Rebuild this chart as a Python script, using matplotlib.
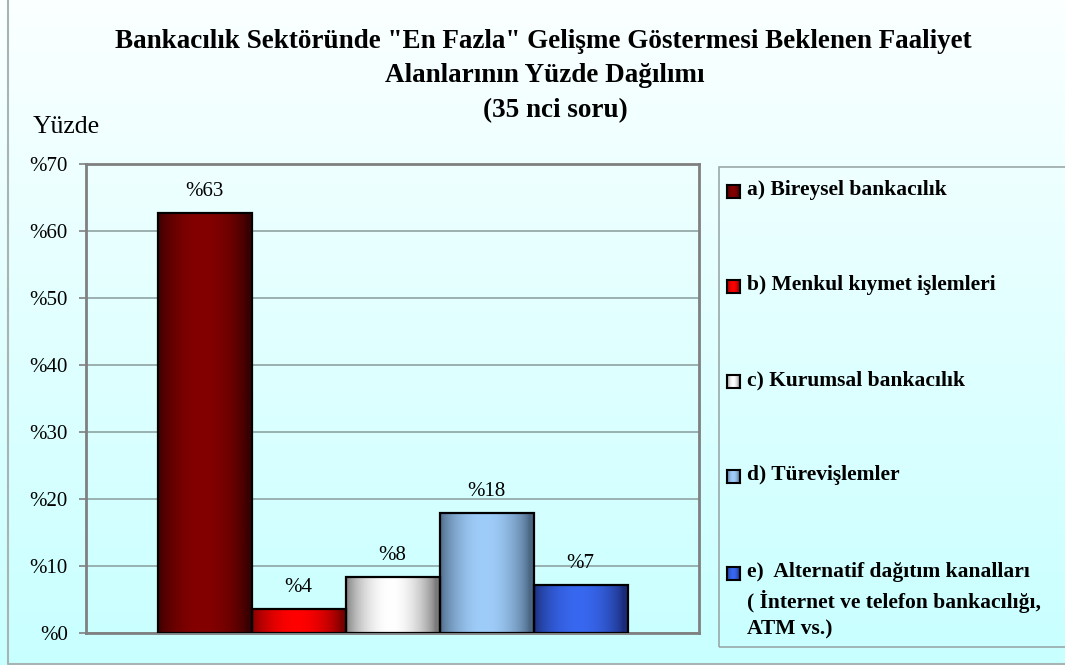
import numpy as np
import matplotlib.pyplot as plt
from matplotlib.colors import to_rgb
from matplotlib.patches import Rectangle

# Dağılım (yüzde)
kategoriler = [
    "a) Bireysel bankacılık",
    "b) Menkul kıymet işlemleri",
    "c) Kurumsal bankacılık",
    "d) Türevişlemler",
    "e)  Alternatif dağıtım kanalları\n( İnternet ve telefon bankacılığı,\nATM vs.)",
]
degerler = [62.7, 3.6, 8.4, 17.9, 7.2]
y_ticks = [0, 10, 20, 30, 40, 50, 60, 70]

# kenar / orta renkleri (silindir gölgesi için)
kenar_renk = ["#380000", "#7a0000", "#7a7a7a", "#4a6682", "#1a2c78"]
orta_renk = ["#840000", "#ff0000", "#ffffff", "#9fcdfa", "#3868f0"]

plt.rcParams["font.family"] = ["Liberation Serif", "DejaVu Serif"]

W, H = 1065, 665
fig = plt.figure(figsize=(W / 100, H / 100), dpi=100)


def px(x, y):
    return x / W, 1 - y / H


def yatay_gradyan(c_kenar, c_orta, n=200):
    t = np.linspace(0, 1, n)
    f = np.sin(np.pi * np.clip(t * 1.05, 0, 1)) ** 0.7
    a = np.array(to_rgb(c_kenar))
    b = np.array(to_rgb(c_orta))
    return (a[None, :] * (1 - f[:, None]) + b[None, :] * f[:, None])[None, :, :]


# arka plan: üstte beyaza yakın, altta açık camgöbeği
bg = fig.add_axes([0, 0, 1, 1], zorder=-5)
top = np.array(to_rgb("#fbffff"))
bot = np.array(to_rgb("#c8ffff"))
s = np.linspace(0, 1, 256)[:, None]
bg.imshow((top * (1 - s) + bot * s)[:, None, :], aspect="auto", extent=(0, 1, 0, 1))
bg.set_xlim(0, 1)
bg.set_ylim(0, 1)
bg.axis("off")
bg.plot([8 / W, 8 / W, 1.2], [1.2, 1.5 / H, 1.5 / H], color="#a8b4b4", lw=1.5,
        clip_on=False)

# çizim alanı
x0, y1 = px(86, 164)
x1, y0 = px(699, 633)
ax = fig.add_axes([x0, y0, x1 - x0, y1 - y0])
ax.set_facecolor("none")

w = 94 / 613
xs = [0.5 + (i - 2) * w for i in range(len(degerler))]
bars = ax.bar(xs, degerler, width=w, color="none", edgecolor="black", lw=1.6, zorder=4)
for b, ck, co, v in zip(bars, kenar_renk, orta_renk, degerler):
    im = ax.imshow(yatay_gradyan(ck, co), aspect="auto", zorder=3,
                   extent=(b.get_x(), b.get_x() + b.get_width(), 0, b.get_height()))
    im.set_clip_path(b)
    ax.text(b.get_x() + b.get_width() / 2, v + 1.8, f"%{v:.0f}", ha="center",
            va="bottom", fontsize=15)

ax.set_xlim(0, 1)
ax.set_ylim(0, 70)
ax.set_yticks(y_ticks)
ax.set_yticklabels([f"%{t}" for t in y_ticks], fontsize=15)
ax.set_xticks([])
ax.grid(axis="y", color="#8fa3a3", lw=1.2, zorder=1)
ax.set_axisbelow(True)
for sp in ax.spines.values():
    sp.set_color("#808080")
    sp.set_linewidth(2)
ax.tick_params(axis="y", length=5, width=1.2, color="#808080", pad=8)

# başlık
fig.text(*px(543, 41), 'Bankacılık Sektöründe "En Fazla" Gelişme Göstermesi Beklenen Faaliyet',
         ha="center", va="center", fontsize=19.5, fontweight="bold")
fig.text(*px(545, 76), "Alanlarının Yüzde Dağılımı", ha="center", va="center",
         fontsize=19.5, fontweight="bold")
fig.text(*px(555, 111), "(35 nci soru)", ha="center", va="center", fontsize=19.5,
         fontweight="bold")
fig.text(*px(33, 127), "Yüzde", ha="left", va="center", fontsize=18.5)

# açıklama kutusu
lx, ly = px(719, 167)
_, lb = px(0, 647)
fig.patches.append(Rectangle((lx, lb), 2.0, ly - lb, transform=fig.transFigure,
                             fill=False, edgecolor="#9aa8a8", lw=1.2, zorder=2))
leg_y = [191, 286, 381, 476, 573]
for lab, yy, ck, co in zip(kategoriler, leg_y, kenar_renk, orta_renk):
    mx, my = px(727, yy + 7)
    sq = fig.add_axes([mx, my, 13 / W, 13 / H])
    sq.imshow(yatay_gradyan(ck, co), aspect="auto")
    sq.set_xticks([])
    sq.set_yticks([])
    for sp in sq.spines.values():
        sp.set_linewidth(1.5)
        sp.set_color("black")
    tx, ty = px(747, yy - 11)
    fig.text(tx, ty, lab, ha="left", va="top", fontsize=15.5, fontweight="bold",
             linespacing=1.45)

fig.savefig("out.png", dpi=100)
